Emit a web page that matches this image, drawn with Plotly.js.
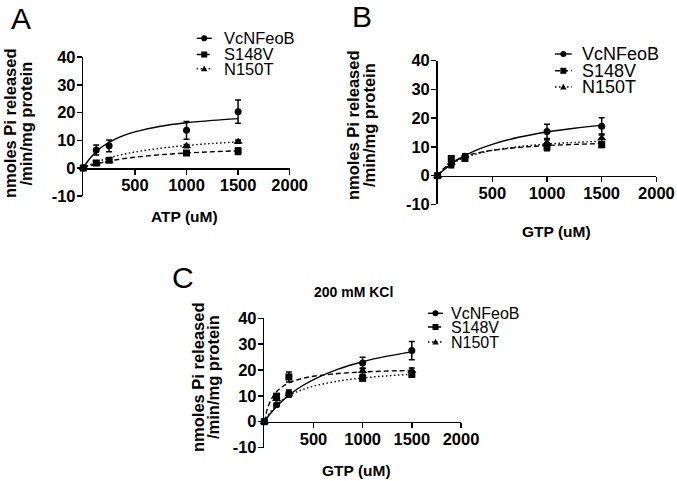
<!DOCTYPE html>
<html><head><meta charset="utf-8">
<script src="https://cdn.plot.ly/plotly-3.0.1.min.js"></script>
<style>html,body{margin:0;padding:0;background:#fff}#chart{width:677px;height:481px}</style>
</head><body><div id="chart"></div>
<script>
// ---------- data ----------
const seriesNames = ['VcNFeoB', 'S148V', 'N150T'];
const concentrations = [0, 125, 250, 1000, 1500];
const fitX = [0, 25, 50, 100, 150, 200, 300, 400, 500, 750, 1000, 1250, 1500];
const xTickVals = [500, 1000, 1500, 2000];
const yTickVals = [-10, 0, 10, 20, 30, 40];
const panelLetters = ['A', 'B', 'C'];
const xTitles = ['ATP (uM)', 'GTP (uM)', 'GTP (uM)'];
const yTitleLines = ['nmoles Pi released', '/min/mg protein'];
const panelCTitle = '200 mM KCl';

// Panel A (ATP)
const aVcN = [0, 6.5, 8.0, 13.6, 20.3];      const aVcNErr = [0, 1.8, 2.1, 3.2, 4.2];
const aS148V = [0, 1.8, 2.8, 5.4, 6.1];      const aS148VErr = [0, 0.5, 0.5, 0.7, 1.2];
const aN150T = [0, 1.6, 2.6, 7.9, 9.5];      const aN150TErr = [0, 0.3, 0.4, 0.6, 0.6];
const aVcNFit = [0, 1.50, 2.81, 4.98, 6.70, 8.10, 10.25, 11.82, 13.01, 15.03, 16.29, 17.16, 17.79];
const aS148VFit = [0, 0.34, 0.65, 1.21, 1.69, 2.12, 2.84, 3.42, 3.89, 4.78, 5.40, 5.85, 6.20];
const aN150TFit = [0, 0.48, 0.92, 1.73, 2.44, 3.07, 4.14, 5.02, 5.75, 7.14, 8.12, 8.85, 9.41];

// Panel B (GTP)
const bVcN = [0, 3.8, 6.4, 15.4, 17.2];      const bVcNErr = [0, 1.0, 1.0, 2.5, 3.0];
const bS148V = [0, 6.0, 6.0, 10.0, 10.8];    const bS148VErr = [0, 0.8, 1.0, 1.3, 1.0];
const bN150T = [0, 4.6, 6.8, 11.5, 13.0];    const bN150TErr = [0, 0.8, 0.8, 1.0, 1.5];
const bVcNFit = [0, 0.93, 1.79, 3.35, 4.71, 5.91, 7.93, 9.56, 10.91, 13.45, 15.21, 16.51, 17.51];
const bS148VFit = [0, 1.26, 2.30, 3.90, 5.08, 5.99, 7.29, 8.18, 8.82, 9.86, 10.48, 10.89, 11.18];
const bN150TFit = [0, 1.02, 1.91, 3.39, 4.55, 5.50, 6.95, 8.00, 8.80, 10.15, 11.00, 11.58, 12.00];

// Panel C (GTP, 200 mM KCl)
const cVcN = [0, 6.6, 11.0, 22.7, 27.5];     const cVcNErr = [0, 0.6, 1.3, 2.2, 3.5];
const cS148V = [0, 9.9, 17.3, 16.8, 18.3];   const cS148VErr = [0, 0.5, 1.9, 1.0, 1.0];
const cN150T = [0, 8.8, 10.6, 19.6, 19.8];   const cN150TErr = [0, 0.5, 1.0, 1.2, 1.0];
const cVcNFit = [0, 1.33, 2.57, 4.83, 6.84, 8.63, 11.69, 14.20, 16.31, 20.34, 23.21, 25.35, 27.02];
const cS148VFit = [0, 4.14, 6.93, 10.44, 12.57, 13.99, 15.78, 16.86, 17.58, 18.64, 19.22, 19.59, 19.84];
const cN150TFit = [0, 1.69, 3.14, 5.50, 7.33, 8.80, 11.00, 12.57, 13.75, 15.71, 16.92, 17.74, 18.33];

// ---------- layout helpers ----------
const W = 677, H = 481;
const PX = x => x / W, PY = y => 1 - y / H;
const FONT = 'Liberation Sans, Arial, Helvetica, sans-serif';
const symbols = ['circle', 'square', 'triangle-up'];
const msizes = [7, 7, 8];
const dashes = ['solid', '5px,3px', '1.5px,2.5px'];
const TICKFONT = {family: FONT, size: 16.5, weight: 'bold', color: '#000'};
const bold = v => '<b>' + v + '</b>';

const panels = [
  {pts: [[aVcN, aVcNErr], [aS148V, aS148VErr], [aN150T, aN150TErr]], fits: [aVcNFit, aS148VFit, aN150TFit],
   x0: 83.3, x1: 289.7, yTop: 57, yZero: 168,
   xt: [184, 216.5], yt: [9.5, 25, 123.5], letter: [21, 18],
   leg: {lx0: 196.7, lx1: 211.7, tx: 221.7, rows: [38.3, 54.5, 68.7], fs: 16.5}},
  {pts: [[bVcN, bVcNErr], [bS148V, bS148VErr], [bN150T, bN150TErr]], fits: [bVcNFit, bS148VFit, bN150TFit],
   x0: 437.6, x1: 656.4, yTop: 60.7, yZero: 175.7,
   xt: [556.7, 231.7], yt: [353, 369, 125], letter: [362, 16],
   leg: {lx0: 555, lx1: 571.7, tx: 580, rows: [54, 70.8, 87], fs: 18}},
  {pts: [[cVcN, cVcNErr], [cS148V, cS148VErr], [cN150T, cN150TErr]], fits: [cVcNFit, cS148VFit, cN150TFit],
   x0: 264.3, x1: 461, yTop: 318.3, yZero: 421.7,
   xt: [356.7, 470], yt: [198, 213, 377], letter: [182.5, 277.5],
   leg: {lx0: 428, lx1: 443, tx: 449.3, rows: [313.3, 327, 342], fs: 16}}
];

const data = [];
const layout = {
  width: W, height: H, margin: {l: 0, r: 0, t: 0, b: 0},
  paper_bgcolor: '#fff', plot_bgcolor: 'rgba(0,0,0,0)',
  showlegend: false, font: {family: FONT, color: '#000'},
  annotations: [], shapes: []
};

panels.forEach((p, i) => {
  const sfx = i === 0 ? '' : String(i + 1);
  const xa = 'x' + sfx, ya = 'y' + sfx;
  const perUnit = (p.yZero - p.yTop) / 40;
  const yBot = p.yZero + 10 * perUnit;

  layout['xaxis' + sfx] = {
    domain: [PX(p.x0), PX(p.x1)], anchor: 'free', position: PY(p.yZero),
    range: [0, 2000], showgrid: false, zeroline: false, showline: true,
    linecolor: '#000', linewidth: 1.5, ticks: 'outside', ticklen: 5, tickwidth: 1.5, tickcolor: '#000',
    tickvals: xTickVals, ticktext: xTickVals.map(bold), ticklabelstandoff: -3,
    tickfont: TICKFONT, fixedrange: true
  };
  layout['yaxis' + sfx] = {
    domain: [PY(yBot), PY(p.yTop)], anchor: xa,
    range: [-10, 40], showgrid: false, zeroline: false, showline: true,
    linecolor: '#000', linewidth: 1.5, ticks: 'outside', ticklen: 5, tickwidth: 1.5, tickcolor: '#000',
    tickvals: yTickVals, ticktext: yTickVals.map(bold), ticklabelstandoff: -2,
    tickfont: TICKFONT, fixedrange: true
  };

  for (let s = 0; s < 3; s++) {
    data.push({
      type: 'scatter', mode: 'lines', x: fitX, y: p.fits[s], xaxis: xa, yaxis: ya,
      line: {color: '#000', width: 1.4, dash: dashes[s], shape: 'spline', smoothing: 1},
      hoverinfo: 'skip', name: seriesNames[s] + ' fit', cliponaxis: false
    });
  }
  for (let s = 0; s < 3; s++) {
    data.push({
      type: 'scatter', mode: 'markers', x: concentrations, y: p.pts[s][0], xaxis: xa, yaxis: ya,
      name: seriesNames[s], cliponaxis: false,
      marker: {symbol: symbols[s], size: msizes[s], color: '#000'},
      error_y: {type: 'data', array: p.pts[s][1], visible: true, color: '#000', thickness: 1.5, width: 3}
    });
  }

  layout.annotations.push({text: panelLetters[i], xref: 'paper', yref: 'paper', x: PX(p.letter[0]), y: PY(p.letter[1]),
    xanchor: 'center', yanchor: 'middle', showarrow: false, font: {family: FONT, size: 30, color: '#000'}});
  layout.annotations.push({text: bold(xTitles[i]), xref: 'paper', yref: 'paper', x: PX(p.xt[0]), y: PY(p.xt[1]),
    xanchor: 'center', yanchor: 'middle', showarrow: false, font: {family: FONT, size: 15.5, color: '#000'}});
  [0, 1].forEach(k => {
    layout.annotations.push({text: bold(yTitleLines[k]), xref: 'paper', yref: 'paper', x: PX(p.yt[k]), y: PY(p.yt[2]),
      xanchor: 'center', yanchor: 'middle', textangle: -90, showarrow: false,
      font: {family: FONT, size: 16.5, color: '#000'}});
  });

  const L = p.leg;
  const mx = (L.lx0 + L.lx1) / 2;
  for (let s = 0; s < 3; s++) {
    const ry = L.rows[s];
    layout.shapes.push({type: 'line', xref: 'paper', yref: 'paper', x0: PX(L.lx0), x1: PX(L.lx1), y0: PY(ry), y1: PY(ry),
      line: {color: '#000', width: 1.4, dash: dashes[s]}});
    const r = 3;
    if (s === 0) {
      layout.shapes.push({type: 'circle', xref: 'paper', yref: 'paper', x0: PX(mx - r), x1: PX(mx + r), y0: PY(ry + r), y1: PY(ry - r),
        fillcolor: '#000', line: {width: 0}});
    } else if (s === 1) {
      layout.shapes.push({type: 'rect', xref: 'paper', yref: 'paper', x0: PX(mx - r), x1: PX(mx + r), y0: PY(ry + r), y1: PY(ry - r),
        fillcolor: '#000', line: {width: 0}});
    } else {
      const t = 3.2;
      layout.shapes.push({type: 'path', xref: 'paper', yref: 'paper',
        path: `M${PX(mx - t)},${PY(ry + t * 0.8)} L${PX(mx + t)},${PY(ry + t * 0.8)} L${PX(mx)},${PY(ry - t)} Z`,
        fillcolor: '#000', line: {width: 0}});
    }
    layout.annotations.push({text: seriesNames[s], xref: 'paper', yref: 'paper', x: PX(L.tx), y: PY(ry),
      xanchor: 'left', yanchor: 'middle', showarrow: false, font: {family: FONT, size: L.fs, color: '#000'}});
  }
});

layout.annotations.push({text: bold(panelCTitle), xref: 'paper', yref: 'paper', x: PX(353), y: PY(292),
  xanchor: 'center', yanchor: 'middle', showarrow: false, font: {family: FONT, size: 14, color: '#000'}});

Plotly.newPlot('chart', data, layout, {displayModeBar: false, staticPlot: true});
</script>
</body></html>
